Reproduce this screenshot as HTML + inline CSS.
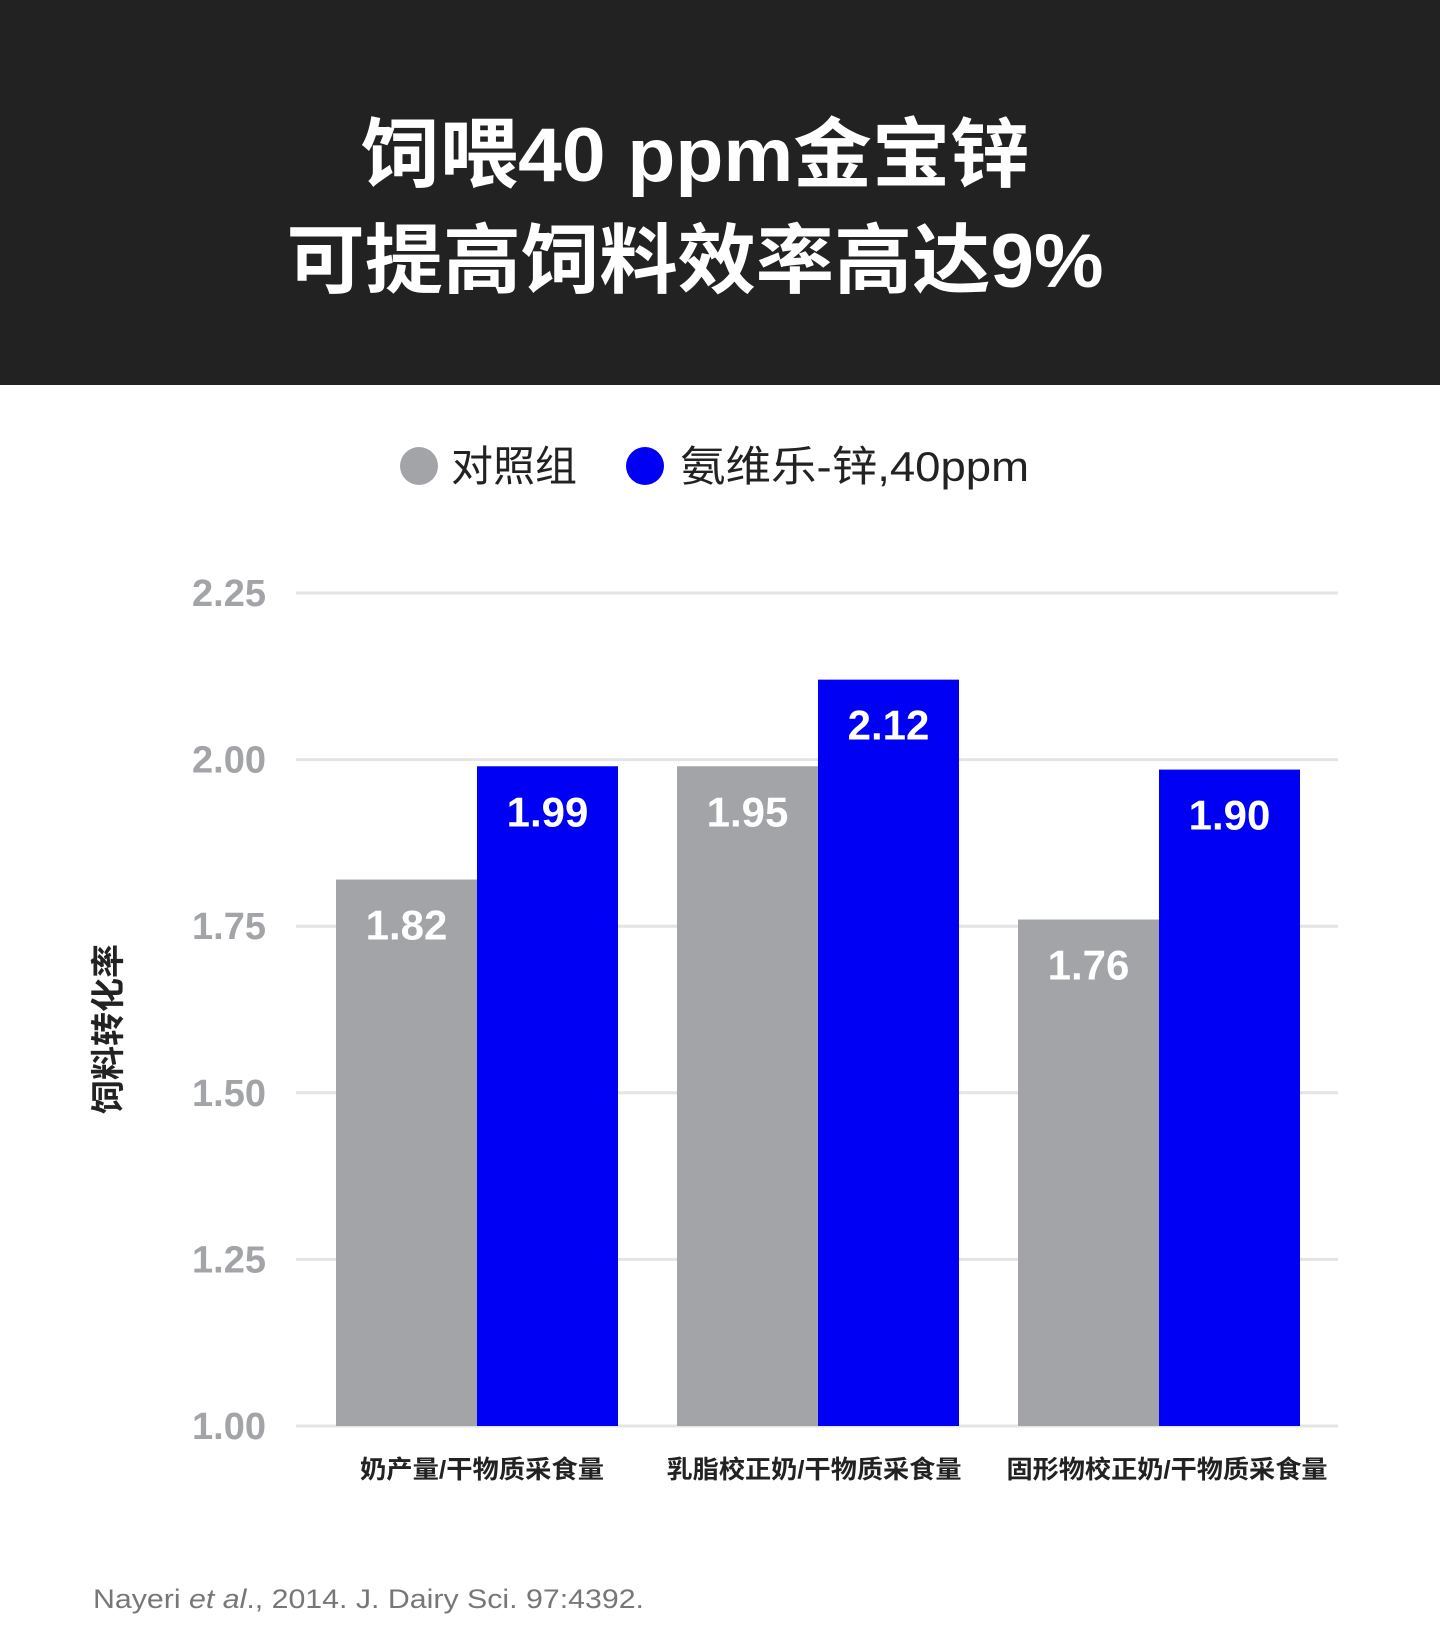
<!DOCTYPE html>
<html><head><meta charset="utf-8"><style>
html,body{margin:0;padding:0;background:#fff}
svg{display:block}
text{font-family:"Liberation Sans","Noto Sans CJK SC",sans-serif}
</style></head><body>
<svg id="chart" width="1440" height="1646" viewBox="0 0 1440 1646" xmlns="http://www.w3.org/2000/svg">
<rect x="0" y="0" width="1440" height="385" fill="#222222"/>
<text x="695" y="181" text-anchor="middle" font-size="76" font-weight="bold" fill="#fff" textLength="668" lengthAdjust="spacingAndGlyphs">饲喂40 ppm金宝锌</text>
<text x="695" y="287" text-anchor="middle" font-size="76" font-weight="bold" fill="#fff" textLength="817" lengthAdjust="spacingAndGlyphs">可提高饲料效率高达9%</text>
<g>
<g>
<circle cx="419" cy="466" r="19" fill="#a3a4a8"/>
<text x="451" y="481" font-size="42" fill="#222">对照组</text>
</g>
<g>
<circle cx="645" cy="466" r="19" fill="#0000f5"/>
<text x="680" y="481" font-size="42" fill="#222" textLength="349" lengthAdjust="spacingAndGlyphs">氨维乐-锌,40ppm</text>
</g>
</g>
<g id="grid"></g>
<g id="yticks"></g>
<g id="bars"></g>
<g id="xlabels"></g>
<text transform="translate(120,1029) rotate(-90)" text-anchor="middle" font-size="34" font-weight="bold" fill="#222">饲料转化率</text>
<text x="93" y="1608" font-size="27" fill="#777" textLength="551" lengthAdjust="spacingAndGlyphs">Nayeri <tspan font-style="italic">et al</tspan>., 2014. J. Dairy Sci. 97:4392.</text>
</svg>
<script>
const categories = ["奶产量/干物质采食量", "乳脂校正奶/干物质采食量", "固形物校正奶/干物质采食量"];
const controlValues = [1.82, 1.99, 1.76];
const treatmentValues = [1.99, 2.12, 1.985];
const controlLabels = ["1.82", "1.95", "1.76"];
const treatmentLabels = ["1.99", "2.12", "1.90"];
const yTicks = [1.00, 1.25, 1.50, 1.75, 2.00, 2.25];
const yTickLabels = ["1.00", "1.25", "1.50", "1.75", "2.00", "2.25"];

const NS = "http://www.w3.org/2000/svg";
const yMin = 1.0, yMax = 2.25, yBottom = 1426, yTop = 593;
function y(v){ return yBottom - (v - yMin) / (yMax - yMin) * (yBottom - yTop); }
const groupStart = 477, groupStep = 341, barW = 141;
const labelWidths = [244, 295, 321];
const labelShift = [5, -4, 8];
function xCenter(i){ return groupStart + i * groupStep; }
function mk(tag, attrs){ const e = document.createElementNS(NS, tag); for (const k in attrs) e.setAttribute(k, attrs[k]); return e; }

const grid = document.getElementById('grid');
const yt = document.getElementById('yticks');
yTicks.forEach((t, i) => {
  const l = mk('line', {x1: 296, x2: 1338, y1: y(t), y2: y(t), stroke: '#e4e4e6', 'stroke-width': 3});
  
  
  grid.appendChild(l);
  const tx = mk('text', {x: 266, y: y(t) + 13, 'text-anchor': 'end', 'font-size': 38, 'font-weight': 'bold', fill: '#a3a4a8'});
  tx.textContent = yTickLabels[i];
  
  
  yt.appendChild(tx);
});

const bars = document.getElementById('bars');
const xl = document.getElementById('xlabels');
categories.forEach((c, i) => {
  const cx = xCenter(i);
  const g = mk('rect', {x: cx - barW, y: y(controlValues[i]), width: barW, height: yBottom - y(controlValues[i]), fill: '#a3a4a8'});
  
  
  bars.appendChild(g);
  const b = mk('rect', {x: cx, y: y(treatmentValues[i]), width: barW, height: yBottom - y(treatmentValues[i]), fill: '#0000f5'});
  
  
  bars.appendChild(b);
  const gl = mk('text', {x: cx - barW / 2, y: y(controlValues[i]) + 60, 'text-anchor': 'middle', 'font-size': 42, 'font-weight': 'bold', fill: '#fff'});
  gl.textContent = controlLabels[i];
  
  
  bars.appendChild(gl);
  const bl = mk('text', {x: cx + barW / 2, y: y(treatmentValues[i]) + 60, 'text-anchor': 'middle', 'font-size': 42, 'font-weight': 'bold', fill: '#fff'});
  bl.textContent = treatmentLabels[i];
  
  
  bars.appendChild(bl);
  const cl = mk('text', {x: cx + labelShift[i], y: 1478, 'text-anchor': 'middle', 'font-size': 25, 'font-weight': 'bold', fill: '#222', textLength: labelWidths[i], lengthAdjust: 'spacingAndGlyphs'});
  cl.textContent = c;
  
  
  xl.appendChild(cl);
});
</script>
</body></html>
